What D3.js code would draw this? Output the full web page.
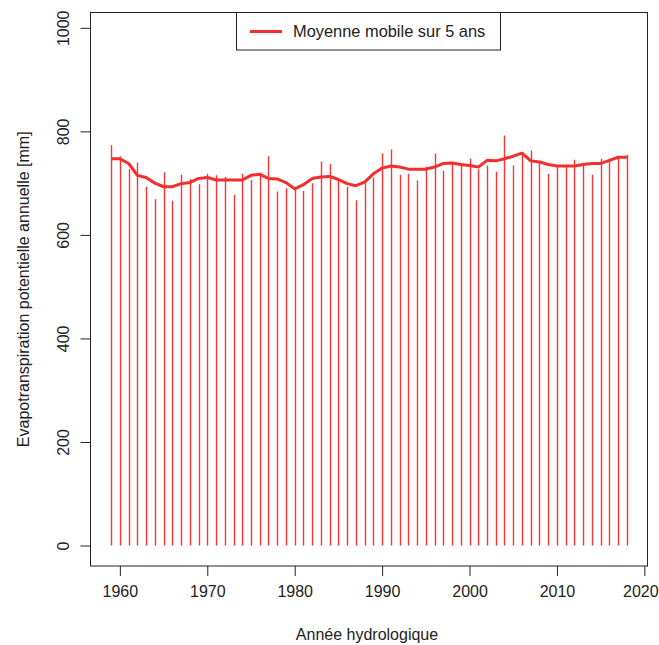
<!DOCTYPE html>
<html><head><meta charset="utf-8">
<script src="https://cdn.jsdelivr.net/npm/d3@7"></script>
<style>
body{margin:0;background:#fff}
svg{display:block}
text{font-family:"Liberation Sans",Arial,Helvetica,sans-serif;fill:#222}
</style>
</head><body><svg id="c" width="659" height="645"></svg>
<script>
const years = [1959,1960,1961,1962,1963,1964,1965,1966,1967,1968,1969,1970,1971,1972,1973,1974,1975,1976,1977,1978,1979,1980,1981,1982,1983,1984,1985,1986,1987,1988,1989,1990,1991,1992,1993,1994,1995,1996,1997,1998,1999,2000,2001,2002,2003,2004,2005,2006,2007,2008,2009,2010,2011,2012,2013,2014,2015,2016,2017,2018];
const etp = [773,752,727,740,693,669,721,666,716,708,698,718,715,712,677,718,706,720,752,684,690,689,685,700,742,737,704,693,667,700,711,757,765,716,718,705,732,757,724,741,733,747,727,734,722,792,734,758,763,742,718,733,733,745,733,716,747,747,750,755];
const moyenneMobile = [747,747,738,715,711,700,693,693,699,701,709,711,706,706,706,706,715,717,709,708,701,689,697,709,712,713,707,699,695,702,718,729,733,731,727,727,727,731,738,739,736,734,731,744,743,747,752,758,743,741,736,733,733,733,736,738,738,744,750,750];
const xTicks = [1960,1970,1980,1990,2000,2010,2020];
const yTicks = [0,200,400,600,800,1000];
const legendLabel = "Moyenne mobile sur 5 ans";
const xTitle = "Année hydrologique";
const yTitle = "Evapotranspiration potentielle annuelle [mm]";

const svg = d3.select("#c");
const plot = {left:90.5, right:647.5, top:12.5, bottom:566};

const xMin = d3.min(years), xMax = d3.max(years), xPad = (xMax - xMin) * 0.04;
const x = d3.scaleLinear().domain([xMin - xPad, xMax + xPad]).range([plot.left, plot.right]);
const yTop = d3.max(etp) * 1.25, yPad = yTop * 0.04;
const y = d3.scaleLinear().domain([-yPad, yTop + yPad]).range([plot.bottom, plot.top]);

const data = years.map((yr, i) => ({year: yr, v: etp[i], m: moyenneMobile[i]}));

// bars (type "h")
svg.append("g").selectAll("line").data(data).enter().append("line")
  .attr("x1", d => Math.round(x(d.year)) + 0.5)
  .attr("x2", d => Math.round(x(d.year)) + 0.5)
  .attr("y1", y(0))
  .attr("y2", d => y(d.v))
  .attr("stroke", "#ff3434")
  .attr("stroke-width", 1.4);

// moving average
svg.append("path").datum(data)
  .attr("d", d3.line().x(d => x(d.year)).y(d => y(d.m)))
  .attr("fill", "none")
  .attr("stroke", "#f22e2e")
  .attr("stroke-width", 3)
  .attr("stroke-linejoin", "round");

// x axis
const gx = svg.append("g").attr("transform", `translate(0,${plot.bottom})`)
  .call(d3.axisBottom(x).tickValues(xTicks).tickFormat(d3.format("d")).tickSize(10).tickSizeOuter(0).tickPadding(10));
gx.select(".domain").remove();
gx.selectAll(".tick line").attr("stroke", "#222").attr("stroke-width", 1);
gx.selectAll(".tick text").attr("font-size", 16).style("font-family", '"Liberation Sans",Arial,sans-serif').attr("fill", "#222")
  .attr("dx", d => d === d3.max(xTicks) ? -4 : 0);

// y axis
const gy = svg.append("g").attr("transform", `translate(${plot.left},0)`)
  .call(d3.axisLeft(y).tickValues(yTicks).tickFormat(d3.format("d")).tickSize(10).tickSizeOuter(0));
gy.select(".domain").remove();
gy.selectAll(".tick line").attr("stroke", "#222").attr("stroke-width", 1);
gy.selectAll(".tick text")
  .attr("x", null).attr("dy", null)
  .attr("text-anchor", "middle")
  .attr("transform", "translate(-22,0) rotate(-90)")
  .attr("font-size", 16).style("font-family", '"Liberation Sans",Arial,sans-serif').attr("fill", "#222");

// box
svg.append("rect")
  .attr("x", plot.left).attr("y", plot.top)
  .attr("width", plot.right - plot.left).attr("height", plot.bottom - plot.top)
  .attr("fill", "none").attr("stroke", "#222").attr("stroke-width", 1);

// titles
svg.append("text").attr("x", (plot.left + plot.right) / 2 - 2).attr("y", 640)
  .attr("text-anchor", "middle").attr("font-size", 16).text(xTitle);
svg.append("text").attr("transform", `translate(29,${(plot.top + plot.bottom) / 2}) rotate(-90)`)
  .attr("text-anchor", "middle").attr("font-size", 16).text(yTitle);

// legend
const lg = svg.append("g");
lg.append("rect").attr("x", 236.5).attr("y", plot.top).attr("width", 264).attr("height", 37.5)
  .attr("fill", "#fff").attr("stroke", "#222").attr("stroke-width", 1);
lg.append("line").attr("x1", 250).attr("x2", 282).attr("y1", 31.5).attr("y2", 31.5)
  .attr("stroke", "#f22e2e").attr("stroke-width", 3);
lg.append("text").attr("x", 293).attr("y", 37).attr("font-size", 16.4).text(legendLabel);
</script>
</body></html>
